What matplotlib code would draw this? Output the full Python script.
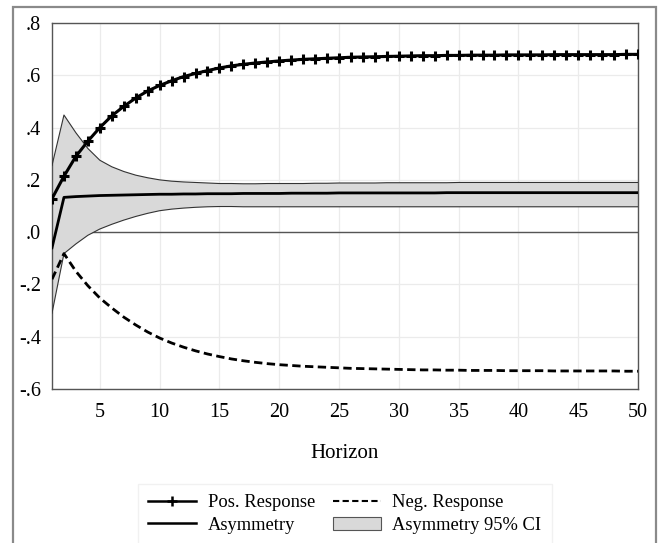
import matplotlib
matplotlib.use("Agg")
import matplotlib.pyplot as plt
from matplotlib.patches import Rectangle, Patch
from matplotlib.lines import Line2D

plt.rcParams['font.family'] = ['Liberation Serif', 'DejaVu Serif']

# impulse responses over 50 horizons
horizon = list(range(1, 51))
pos_resp = [0.128, 0.214, 0.290, 0.348, 0.400, 0.445, 0.481, 0.513, 0.540, 0.561,
            0.579, 0.595, 0.607, 0.618, 0.628, 0.636, 0.642, 0.647, 0.651, 0.655,
            0.658, 0.661, 0.663, 0.665, 0.667, 0.669, 0.670, 0.671, 0.672, 0.673,
            0.674, 0.675, 0.675, 0.676, 0.676, 0.677, 0.677, 0.677, 0.678, 0.678,
            0.678, 0.678, 0.679, 0.679, 0.679, 0.679, 0.679, 0.679, 0.680, 0.680]
neg_resp = [-0.180, -0.082, -0.150, -0.205, -0.252, -0.290, -0.325, -0.355, -0.382, -0.405,
            -0.424, -0.440, -0.454, -0.466, -0.476, -0.485, -0.492, -0.498, -0.503, -0.507,
            -0.510, -0.513, -0.515, -0.517, -0.519, -0.521, -0.522, -0.523, -0.524, -0.525,
            -0.526, -0.527, -0.527, -0.528, -0.528, -0.529, -0.529, -0.529, -0.530, -0.530,
            -0.530, -0.530, -0.531, -0.531, -0.531, -0.531, -0.531, -0.531, -0.532, -0.532]
asym = [-0.060, 0.133, 0.136, 0.138, 0.140, 0.141, 0.142, 0.143, 0.144, 0.145,
        0.145, 0.146, 0.146, 0.147, 0.147, 0.147, 0.148, 0.148, 0.148, 0.148,
        0.149, 0.149, 0.149, 0.149, 0.150, 0.150, 0.150, 0.150, 0.150, 0.150,
        0.150, 0.150, 0.150, 0.151, 0.151, 0.151, 0.151, 0.151, 0.151, 0.151,
        0.151, 0.151, 0.151, 0.151, 0.151, 0.151, 0.151, 0.151, 0.151, 0.151]
ci_upper = [0.255, 0.448, 0.380, 0.320, 0.275, 0.250, 0.232, 0.218, 0.208, 0.200,
            0.195, 0.192, 0.190, 0.188, 0.186, 0.186, 0.185, 0.185, 0.186, 0.186,
            0.186, 0.186, 0.187, 0.187, 0.188, 0.188, 0.188, 0.188, 0.189, 0.189,
            0.189, 0.189, 0.189, 0.189, 0.190, 0.190, 0.190, 0.190, 0.190, 0.190,
            0.190, 0.190, 0.190, 0.190, 0.190, 0.190, 0.190, 0.190, 0.190, 0.190]
ci_lower = [-0.310, -0.082, -0.045, -0.012, 0.012, 0.030, 0.046, 0.060, 0.072, 0.082,
            0.088, 0.092, 0.095, 0.097, 0.098, 0.098, 0.097, 0.097, 0.097, 0.097,
            0.097, 0.097, 0.097, 0.097, 0.097, 0.097, 0.097, 0.097, 0.097, 0.097,
            0.097, 0.097, 0.097, 0.097, 0.097, 0.097, 0.097, 0.097, 0.097, 0.097,
            0.097, 0.097, 0.097, 0.097, 0.097, 0.097, 0.097, 0.097, 0.097, 0.097]

yticks = [-0.6, -0.4, -0.2, 0.0, 0.2, 0.4, 0.6, 0.8]
ytick_labels = ['-.6', '-.4', '-.2', '.0', '.2', '.4', '.6', '.8']
xticks = [5, 10, 15, 20, 25, 30, 35, 40, 45, 50]

fig = plt.figure(figsize=(6.62, 5.43), dpi=100)
ax = fig.add_axes([52/662, 1 - 389/543, (638 - 52)/662, (389 - 23)/543])

# outer frame of the graph
fig.patches.append(Rectangle((13/662, -0.2), (656 - 13)/662, 1.2 - 7/543,
                             transform=fig.transFigure, fill=False,
                             edgecolor='#8a8a8a', lw=1.6, zorder=0))

ax.axhline(0, color='#555555', lw=1.0, zorder=1)
ax.fill_between(horizon, ci_lower, ci_upper, facecolor='#d9d9d9', edgecolor='none', zorder=2)
ax.plot(horizon, ci_upper, color='#333333', lw=0.8, zorder=3)
ax.plot(horizon, ci_lower, color='#333333', lw=0.8, zorder=3)
ax.plot(horizon, asym, color='black', lw=2.0, zorder=4)
ax.plot(horizon, neg_resp, color='black', lw=2.0, ls=(0, (3, 1.6)), zorder=4)
ax.plot(horizon, pos_resp, color='black', lw=2.2, marker='+', ms=7.5, mew=2.2, zorder=5)

ax.set_xlim(1, 50)
ax.set_ylim(-0.6, 0.8)
ax.set_xticks(xticks)
ax.set_yticks(yticks)
ax.set_yticklabels(ytick_labels)
ax.grid(True, color='#ebebeb', lw=0.9)
ax.set_axisbelow(True)
ax.tick_params(length=0, labelsize=14.5, colors='black')
ax.tick_params(axis='x', pad=10)
ax.tick_params(axis='y', pad=8)
for s in ax.spines.values():
    s.set_color('#555555')
    s.set_linewidth(1.0)
ax.set_xlabel('Horizon', fontsize=15, labelpad=16)

handles = [
    Line2D([0, 1], [0, 0], color='black', lw=1.8, marker='+', ms=7, mew=1.8),
    Line2D([0, 1], [0, 0], color='black', lw=1.8),
    Line2D([0, 1], [0, 0], color='black', lw=1.5, ls=(0, (3, 1.6))),
    Patch(facecolor='#d9d9d9', edgecolor='#555555', lw=0.8),
]
labels = ['Pos. Response', 'Asymmetry', 'Neg. Response', 'Asymmetry 95% CI']
leg = fig.legend(handles, labels, loc='upper center', ncol=2,
                 bbox_to_anchor=(345/662, 1 - 484/543), frameon=True, fancybox=False,
                 fontsize=13.3, handlelength=2.6, columnspacing=1.0, handletextpad=0.6,
                 labelspacing=0.3, borderpad=0.55, borderaxespad=0)
leg.get_frame().set_edgecolor('#eeeeee')
leg.get_frame().set_linewidth(1.0)

fig.savefig('out.png', dpi=100)
